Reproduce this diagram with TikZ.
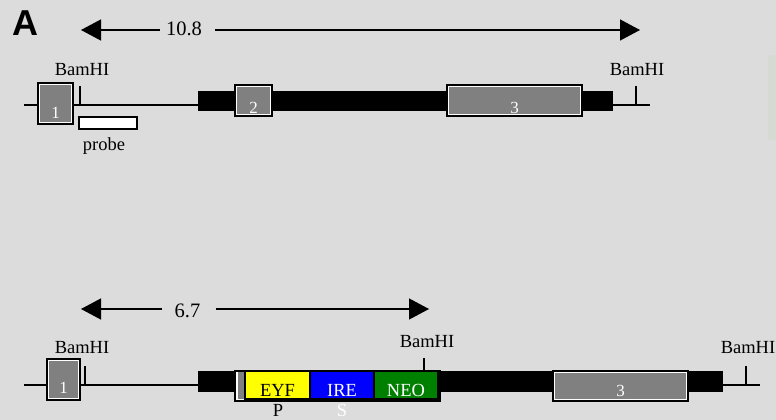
\documentclass[tikz,border=0pt]{standalone}
\usepackage{fontspec}
\setmainfont{Liberation Serif}
\newfontfamily\headfont{Liberation Sans}
\usetikzlibrary{arrows.meta}

\definecolor{bgcol}{HTML}{DCDCDC}
\definecolor{exongray}{HTML}{808080}
\definecolor{stripcol}{HTML}{D5DBD2}
\definecolor{eyfcol}{HTML}{FFFF00}
\definecolor{irescol}{HTML}{0000FF}
\definecolor{neocol}{HTML}{008000}

\tikzset{
  box/.style={rectangle, inner sep=0pt, outer sep=0pt},
  exon/.style={box, draw=black, fill=exongray, line width=1.3pt,
    path picture={\draw[white, line width=1.1pt]
      ([shift={(1.6pt,-1.6pt)}]path picture bounding box.north west) rectangle
      ([shift={(-1.6pt,1.6pt)}]path picture bounding box.south east);}},
  frame/.style={box, draw=black, fill=white, line width=1.3pt},
  cassette/.style={box, draw=black, line width=1.1pt},
  bar/.style={box, fill=black},
  probebox/.style={box, draw=black, fill=white, line width=1.3pt},
  gene/.style={line width=1.4pt},
  tick/.style={line width=1.4pt},
  span/.style={line width=1.3pt, -{Triangle[length=20pt,width=21pt]}},
  lbl/.style={inner sep=0pt, anchor=base, font=\fontsize{18.5}{20}\selectfont},
  numlbl/.style={inner sep=0pt, anchor=base, text=white, font=\fontsize{17}{19}\selectfont},
  sizelbl/.style={inner sep=0pt, anchor=base, font=\fontsize{20.5}{22}\selectfont},
}

\begin{document}
\begin{tikzpicture}[x=1pt, y=-1pt]
  % canvas
  \fill[bgcol] (0,0) rectangle (776,420);
  \useasboundingbox (0,0) rectangle (776,420);
  \fill[stripcol] (768,55) rectangle (776,140);

  % panel letter
  \node[inner sep=0pt, anchor=base west, font=\headfont\bfseries\fontsize{36}{38}\selectfont] (panel) at (12.5,36) {A};

  % ---------- wild-type locus ----------
  % fragment size
  \node[sizelbl] (sz1) at (184,36) {10.8};
  \coordinate (sz1l) at (81,30);
  \coordinate (sz1r) at (640,30);
  \coordinate (sz1a) at ([xshift=-6pt]sz1.west);
  \coordinate (sz1b) at ([xshift=13pt]sz1.east);
  \draw[span] (sz1a |- sz1l) -- (sz1l);
  \draw[span] (sz1b |- sz1r) -- (sz1r);

  % backbone and coding region
  \node[bar, minimum width=415pt, minimum height=20pt] (bar1) at (405.5,101) {};
  \coordinate (g1s) at (24,105);
  \coordinate (g1e) at (650,105);
  \draw[gene] (g1s) -- (g1s -| bar1.west);
  \draw[gene] (g1e -| bar1.east) -- (g1e);

  % exons
  \node[exon, minimum width=35pt, minimum height=41pt] (w1) at (55.5,103.5) {};
  \node[exon, minimum width=37pt, minimum height=31pt] (w2) at (253.5,100.5) {};
  \node[exon, minimum width=135pt, minimum height=31pt] (w3) at (514.5,100.5) {};
  \node[numlbl] at (55.5,118) {1};
  \node[numlbl] at (253.5,113) {2};
  \node[numlbl] at (514.5,113) {3};

  % BamHI sites
  \coordinate (b1t) at (80,86);
  \coordinate (b2t) at (636,86);
  \draw[tick] (b1t) -- (b1t |- g1s);
  \draw[tick] (b2t) -- (b2t |- g1e);
  \node[lbl] (b1) at (82,75) {BamHI};
  \node[lbl] (b2) at (637,75) {BamHI};

  % probe
  \node[probebox, minimum width=58pt, minimum height=12pt] (probe) at (108,123) {};
  \node[lbl] (probelbl) at (104,150) {probe};

  % ---------- targeted locus ----------
  \node[sizelbl] (sz2) at (187.5,317) {6.7};
  \coordinate (sz2l) at (81,309);
  \coordinate (sz2r) at (429,309);
  \coordinate (sz2a) at ([xshift=-12pt]sz2.west);
  \coordinate (sz2b) at ([xshift=15pt]sz2.east);
  \draw[span] (sz2a |- sz2l) -- (sz2l);
  \draw[span] (sz2b |- sz2r) -- (sz2r);

  \node[bar, minimum width=525pt, minimum height=21pt] (bar2) at (460.5,381.5) {};
  \coordinate (g2s) at (24,385);
  \coordinate (g2e) at (760,385);
  \draw[gene] (g2s) -- (g2s -| bar2.west);
  \draw[gene] (g2e -| bar2.east) -- (g2e);

  \node[exon, minimum width=33pt, minimum height=41pt] (m1) at (63.5,379.5) {};
  \node[exon, minimum width=135pt, minimum height=30pt] (m3) at (620.5,386) {};
  \node[numlbl] at (63.5,393) {1};
  \node[numlbl] at (620.5,396) {3};

  % reporter / selection cassette
  \node[frame, minimum width=205pt, minimum height=30pt] (ins) at (337.5,386) {};
  \fill[white] (236.5,398) rectangle (439,400);
  \node[box, fill=exongray, minimum width=6.5pt, minimum height=27pt] (stub) at (240.75,385.5) {};
  \node[cassette, fill=eyfcol, minimum width=65pt, minimum height=28pt] (eyfp) at (277.5,385) {};
  \node[cassette, fill=irescol, minimum width=64pt, minimum height=28pt] (ires) at (342,385) {};
  \node[cassette, fill=neocol, minimum width=64pt, minimum height=28pt] (neo) at (406,385) {};
  \node[lbl] at (277.5,396) {EYF};
  \node[lbl, text=white] at (342,396) {IRE};
  \node[lbl, text=white] at (406,396) {NEO};
  \node[lbl] at (278,416.5) {P};
  \node[lbl, text=white] at (342,416.5) {S};

  % BamHI sites
  \coordinate (c1t) at (85,366);
  \coordinate (c2t) at (424,358);
  \coordinate (c3t) at (746,366);
  \draw[tick] (c1t) -- (c1t |- g2s);
  \draw[tick] (c2t) -- (c2t |- bar2.north);
  \draw[tick] (c3t) -- (c3t |- g2e);
  \node[lbl] (c1) at (82,353) {BamHI};
  \node[lbl] (c2) at (427,347) {BamHI};
  \node[lbl] (c3) at (748,353) {BamHI};
\end{tikzpicture}
\end{document}
